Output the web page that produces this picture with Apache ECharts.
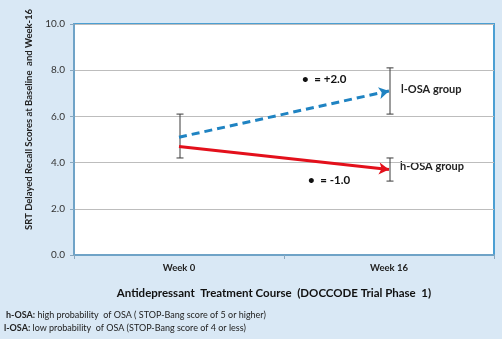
<!DOCTYPE html>
<html><head><meta charset="utf-8">
<script src="https://cdn.jsdelivr.net/npm/echarts@6/dist/echarts.min.js"></script>
<style>html,body{margin:0;padding:0;background:#d9e8f5;}#c{width:502px;height:339px;}</style>
</head><body><div id="c"></div>
<script>
var categories = ['Week 0', 'Week 16'];
var lowOSA = [5.1, 7.1];
var highOSA = [4.7, 3.7];
// error bars: [categoryIndex, low, high]
var errorBars = [[0, 4.2, 6.1], [1, 6.1, 8.1], [1, 3.2, 4.2]];
var yTicks = [0, 2, 4, 6, 8, 10];

var FONT = 'Lato, "Open Sans", sans-serif';
var chart = echarts.init(document.getElementById('c'));

function arrowData(vals) {
  return vals.map(function (v, i) {
    return i === vals.length - 1 ? { value: v, symbol: 'arrow', symbolSize: [9, 10] } : { value: v, symbol: 'none' };
  });
}

var option = {
  backgroundColor: '#d9e8f5',
  animation: false,
  grid: { left: 74, right: 8, top: 24, bottom: 84, show: true, backgroundColor: '#ffffff', borderColor: '#4b9fd3', borderWidth: 2 },
  xAxis: {
    type: 'category', data: categories,
    axisLine: { lineStyle: { color: '#6fa3c7', width: 2 } },
    axisTick: { show: true, length: 4, lineStyle: { color: '#8aa8bf' } },
    axisLabel: { fontFamily: FONT, fontWeight: 'bold', fontSize: 9.5, color: '#222', margin: 8 },
    name: 'Antidepressant  Treatment Course  (DOCCODE Trial Phase  1)',
    nameLocation: 'middle', nameGap: 32,
    nameTextStyle: { fontFamily: FONT, fontWeight: 'bold', fontSize: 11.5, color: '#111', padding: [0, 20, 0, 0] }
  },
  yAxis: {
    type: 'value', min: 0, max: 10, interval: 2,
    axisLine: { show: true, lineStyle: { color: '#6fa3c7', width: 2 } },
    axisTick: { show: true, length: 4, lineStyle: { color: '#8aa8bf' } },
    splitLine: { lineStyle: { color: '#bdbdbd', width: 1 } },
    axisLabel: { fontFamily: FONT, fontSize: 10, color: '#333', margin: 9, formatter: function (v) { return v.toFixed(1); } },
    name: 'SRT Delayed Recall Scores at Baseline  and Week-16',
    nameLocation: 'middle', nameGap: 38, nameRotate: 90,
    nameTextStyle: { fontFamily: FONT, fontWeight: 'bold', fontSize: 9.5, color: '#222', padding: [0, 0, 0, 40] }
  },
  series: [
    {
      type: 'custom', name: 'err', z: 3,
      data: errorBars,
      renderItem: function (params, api) {
        var top = api.coord([api.value(0), api.value(2)]);
        var bot = api.coord([api.value(0), api.value(1)]);
        var x = top[0] + 1, cw = 3.5;
        var st = { stroke: '#3a3a3a', lineWidth: 1 };
        return { type: 'group', children: [
          { type: 'line', shape: { x1: x, y1: top[1], x2: x, y2: bot[1] }, style: st },
          { type: 'line', shape: { x1: x - cw, y1: top[1], x2: x + cw, y2: top[1] }, style: st },
          { type: 'line', shape: { x1: x - cw, y1: bot[1], x2: x + cw, y2: bot[1] }, style: st }
        ] };
      }
    },
    {
      type: 'line', name: 'l-OSA', z: 4, data: arrowData(lowOSA),
      lineStyle: { color: '#1f83c2', width: 3, type: [8, 5] },
      itemStyle: { color: '#1f83c2' }
    },
    {
      type: 'line', name: 'h-OSA', z: 4, data: arrowData(highOSA),
      lineStyle: { color: '#e3101b', width: 3 },
      itemStyle: { color: '#e3101b' }
    }
  ],
  graphic: [
    { type: 'text', left: 401, top: 84, style: { text: 'l-OSA group', font: 'bold 11px ' + FONT, fill: '#222' } },
    { type: 'text', left: 400, top: 161, style: { text: 'h-OSA group', font: 'bold 11px ' + FONT, fill: '#222' } },
    { type: 'text', left: 302, top: 73, style: { text: '\u2022  = +2.0', font: 'bold 11.5px ' + FONT, fill: '#111' } },
    { type: 'text', left: 308, top: 174, style: { text: '\u2022  = -1.0', font: 'bold 11.5px ' + FONT, fill: '#111' } },
    { type: 'text', left: 6, top: 311, style: { rich: { b: { fontFamily: FONT, fontWeight: 'bold', fontSize: 9, fill: '#222' }, n: { fontFamily: FONT, fontSize: 9, fill: '#222' } }, text: '{b|h-OSA:}{n| high probability  of OSA ( STOP-Bang score of 5 or higher)}' } },
    { type: 'text', left: 4, top: 324, style: { rich: { b: { fontFamily: FONT, fontWeight: 'bold', fontSize: 9, fill: '#222' }, n: { fontFamily: FONT, fontSize: 9, fill: '#222' } }, text: '{b|l-OSA:}{n| low probability  of OSA (STOP-Bang score of 4 or less)}' } }
  ]
};
chart.setOption(option);

function rot(vals) {
  var p0 = chart.convertToPixel({ gridIndex: 0 }, [0, vals[0]]);
  var p1 = chart.convertToPixel({ gridIndex: 0 }, [1, vals[1]]);
  var ang = Math.atan2(-(p1[1] - p0[1]), p1[0] - p0[0]) * 180 / Math.PI;
  return ang - 90;
}
function withRot(vals) {
  var d = arrowData(vals);
  d[d.length - 1].symbolRotate = rot(vals);
  return d;
}
chart.setOption({ series: [{}, { data: withRot(lowOSA) }, { data: withRot(highOSA) }] });
</script></body></html>
